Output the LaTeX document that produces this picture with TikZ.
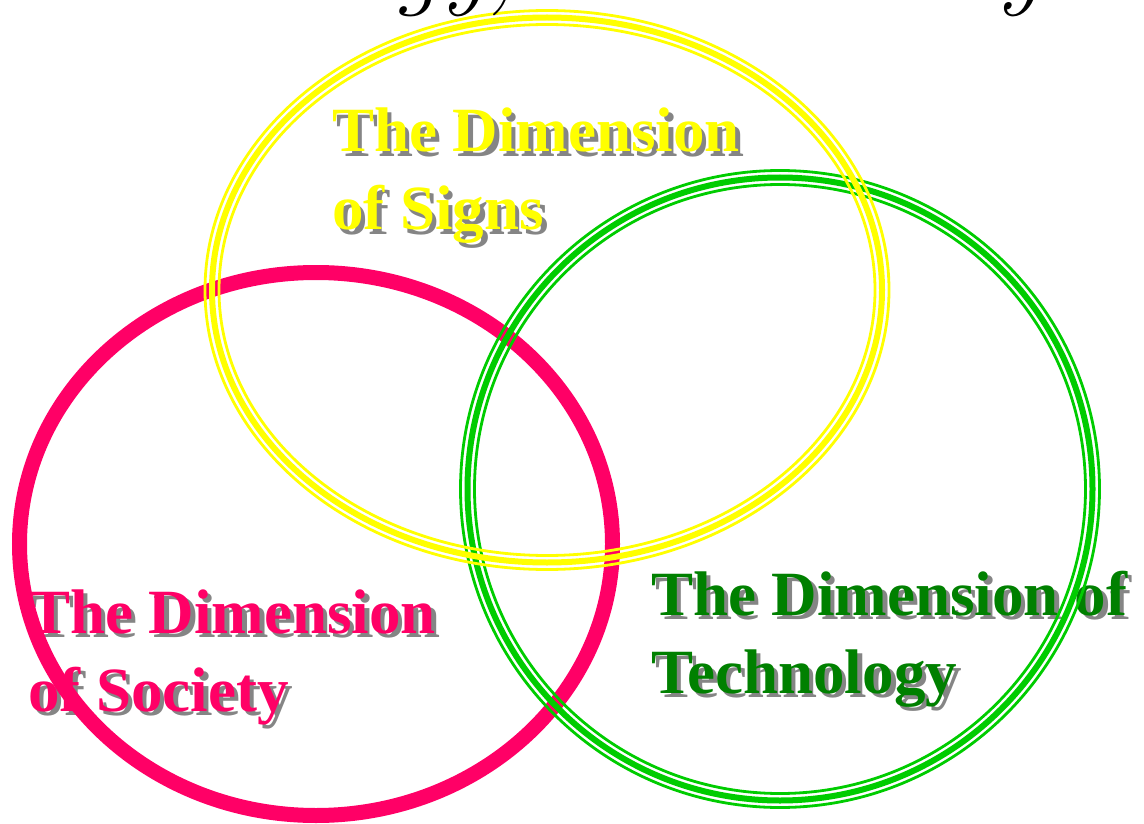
\documentclass[tikz,border=0pt]{standalone}
\usepackage{fontspec}
\newfontfamily\labelfont{Liberation Serif}
\definecolor{ysign}{HTML}{FFFF00}
\definecolor{gring}{HTML}{00CC00}
\definecolor{gtext}{HTML}{008000}
\definecolor{pring}{HTML}{FF0066}
\definecolor{shadowgray}{HTML}{858585}
\newcommand\twolines[2]{\begin{tabular}[t]{@{}l@{}}#1\\#2\end{tabular}}
\begin{document}
\begin{tikzpicture}[x=1pt,y=-1pt,
  lbl/.style={inner sep=0pt, anchor=base west, font=\labelfont\fontsize{63}{78}\selectfont\bfseries},
  shade/.style={lbl, text=shadowgray},
  thinring/.style={line width=2.8pt},
  thickring/.style={line width=6pt},
  pinkring/.style={draw=pring, line width=15pt},
  titletext/.style={inner sep=0pt, anchor=base east, font=\fontsize{100}{120}\selectfont\itshape}]
\useasboundingbox (0,0) rectangle (1144,824);
% labels with drop shadows
\node[shade] (signsS) at (336.5,156.5) {\twolines{The Dimension}{of Signs}};
\node[lbl, text=ysign] (signs) at (332,152) {\twolines{The Dimension}{of Signs}};
\node[shade] (techS) at (655.5,619.5) {\twolines{The Dimension of}{Technology}};
\node[lbl, text=gtext] (tech) at (651,615) {\twolines{The Dimension of}{Technology}};
\node[shade] (socS) at (32.5,637.5) {\twolines{The Dimension}{of Society}};
\node[lbl, text=pring] (soc) at (28,633) {\twolines{The Dimension}{of Society}};
% rings
\coordinate (pc) at (316,544);
\coordinate (gc) at (780,489);
\coordinate (yc) at (547,290);
\draw[pinkring] (pc) ellipse [x radius=296.5, y radius=271.5];
\draw[gring, thickring] (gc) ellipse [x radius=312.5, y radius=311.5];
\draw[gring, thinring] (gc) ellipse [x radius=319.5, y radius=318.5];
\draw[gring, thinring] (gc) ellipse [x radius=305.5, y radius=304.5];
\draw[ysign, thickring] (yc) ellipse [x radius=335, y radius=272.5];
\draw[ysign, thinring] (yc) ellipse [x radius=342, y radius=279.5];
\draw[ysign, thinring] (yc) ellipse [x radius=328, y radius=265.5];
% title, cut off at the top
\node[titletext] (title) at (1042,-3) {Technology, and Society};
\end{tikzpicture}
\end{document}
